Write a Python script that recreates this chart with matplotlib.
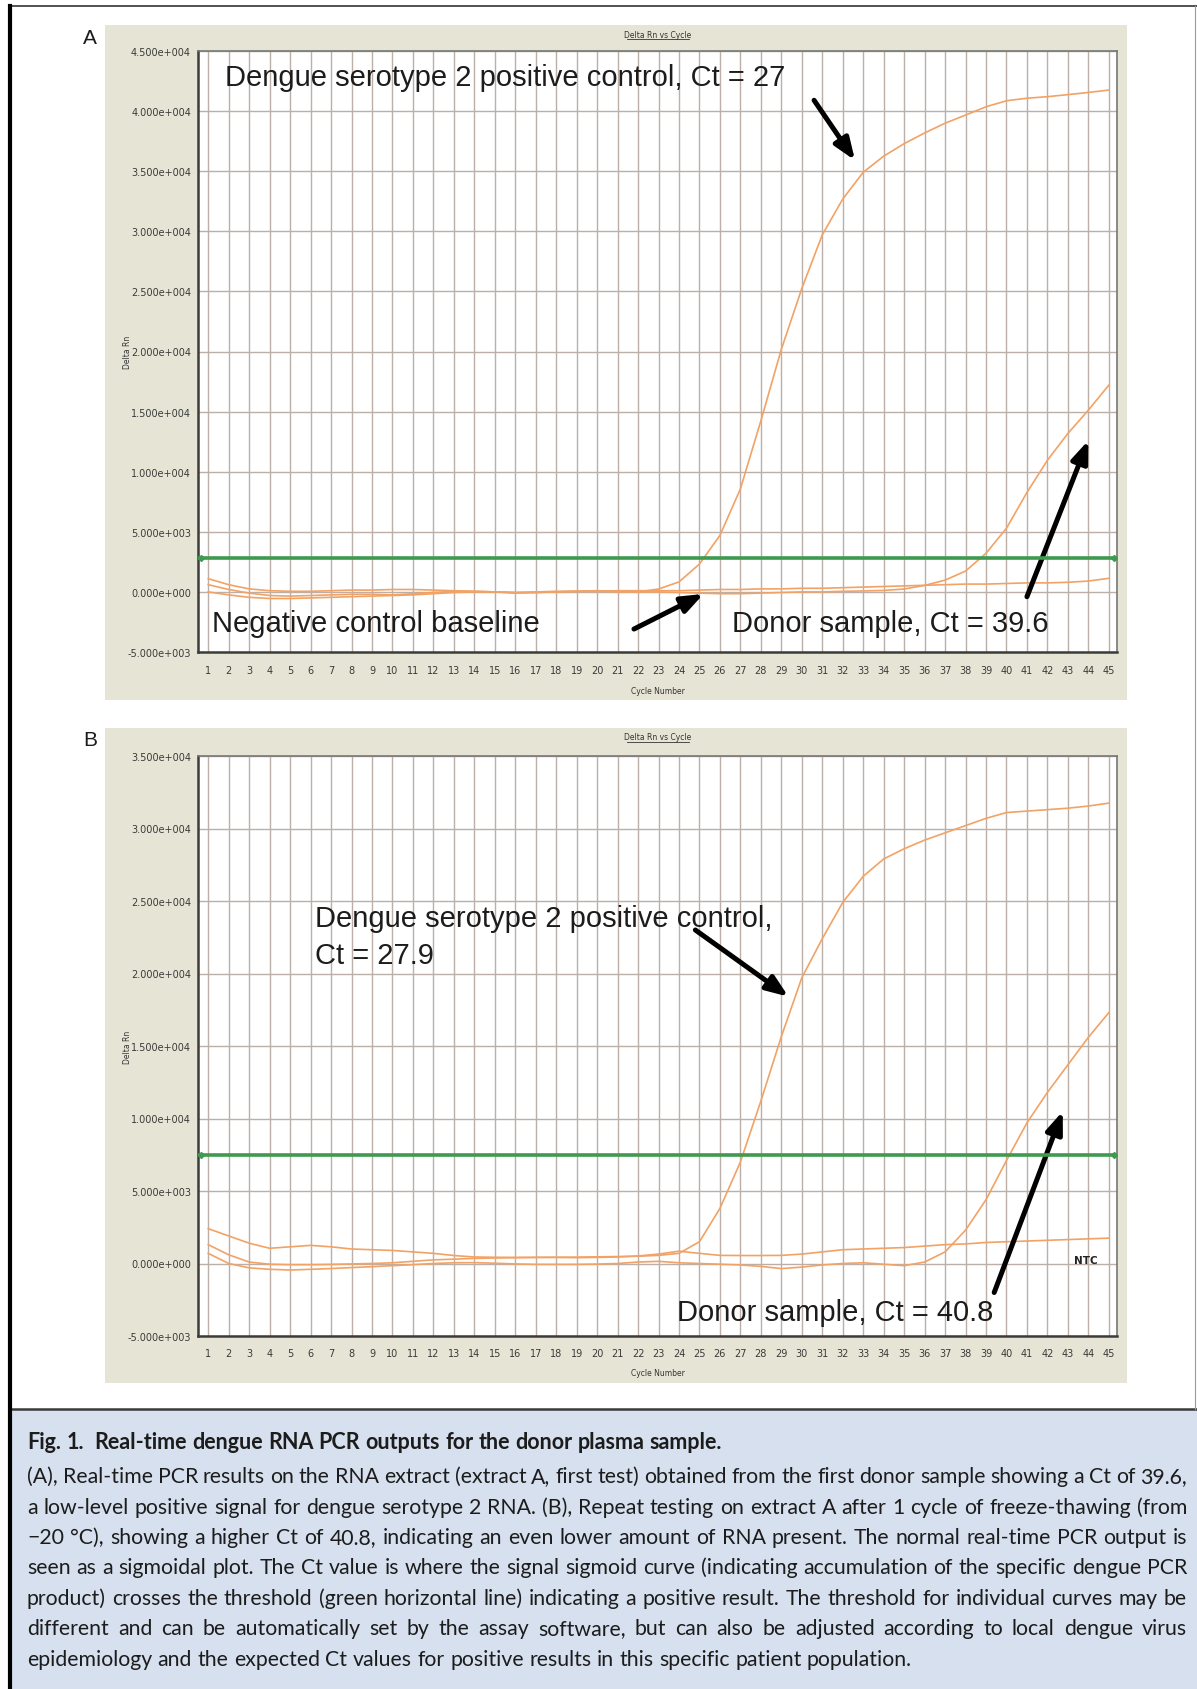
import matplotlib
matplotlib.use('Agg')
import matplotlib.pyplot as plt
from matplotlib.patches import Rectangle
from matplotlib.lines import Line2D
import numpy as np

W, H = 1197, 1690

TAN = '#e6e4d4'
GRID = '#bcafa8'
ORANGE = '#f2a264'
GREEN = '#3d9a4e'
CAPTION_BG = '#d6e0ee'
INK = '#1c1c1c'

cycles = list(range(1, 46))

# panel A: extract A, first test
a_positive = [1100, 600, 250, 100, 50,
              50, 100, 150, 150, 200,
              200, 150, 100, 50, 0,
              -50, 0, 50, 50, 50,
              0, 0, 240, 830, 2320,
              4700, 8570, 14230, 20180, 25240,
              29700, 32680, 34910, 36250, 37290,
              38180, 38990, 39670, 40360, 40860,
              41070, 41200, 41370, 41550, 41750]
a_donor = [600, 200, -100, -300, -350,
           -300, -250, -200, -200, -250,
           -150, -50, 50, 50, 0,
           -100, -50, 0, 50, 100,
           50, 0, 0, -50, -100,
           -150, -150, -100, -50, 0,
           0, 50, 80, 120, 240,
           540, 980, 1730, 3210, 5300,
           8270, 10950, 13180, 15120, 17200]
a_ntc = [0, -250, -450, -550, -550,
         -500, -450, -400, -350, -300,
         -250, -150, -50, 0, 0,
         -50, -50, 0, 50, 50,
         100, 100, 100, 100, 150,
         200, 200, 250, 250, 300,
         300, 350, 400, 450, 500,
         550, 600, 650, 650, 700,
         750, 750, 800, 900, 1130]
a_threshold = 2800

# panel B: repeat after freeze-thaw
b_positive = [1300, 600, 100, -50, -80,
              -80, -60, -30, 0, 50,
              150, 250, 300, 350, 380,
              400, 420, 430, 440, 460,
              480, 500, 560, 700, 1500,
              3800, 7000, 11200, 15650, 19700,
              22400, 24900, 26700, 27900, 28600,
              29200, 29700, 30200, 30700, 31100,
              31200, 31300, 31400, 31550, 31750]
b_donor = [700, 0, -300, -400, -450,
           -400, -350, -280, -220, -150,
           -80, 0, 50, 60, 20,
           -30, -60, -60, -60, -40,
           0, 100, 150, 50, 0,
           -50, -100, -200, -350, -250,
           -100, 0, 50, -50, -150,
           100, 800, 2300, 4400, 7100,
           9700, 11800, 13700, 15600, 17300]
b_ntc = [2400, 1900, 1400, 1050, 1150,
         1250, 1150, 1000, 950, 900,
         800, 700, 550, 450, 430,
         420, 420, 420, 400, 420,
         450, 520, 650, 850, 700,
         560, 550, 550, 560, 650,
         800, 950, 1000, 1050, 1100,
         1200, 1300, 1350, 1450, 1500,
         1550, 1600, 1650, 1700, 1750]
b_threshold = 7500

caption_title = 'Fig. 1.  Real-time dengue RNA PCR outputs for the donor plasma sample.'
caption_lines = [
    '(A), Real-time PCR results on the RNA extract (extract A, first test) obtained from the first donor sample showing a Ct of 39.6,',
    'a low-level positive signal for dengue serotype 2 RNA. (B), Repeat testing on extract A after 1 cycle of freeze-thawing (from',
    '\u221220 \u00b0C), showing a higher Ct of 40.8, indicating an even lower amount of RNA present. The normal real-time PCR output is',
    'seen as a sigmoidal plot. The Ct value is where the signal sigmoid curve (indicating accumulation of the specific dengue PCR',
    'product) crosses the threshold (green horizontal line) indicating a positive result. The threshold for individual curves may be',
    'different and can be automatically set by the assay software, but can also be adjusted according to local dengue virus',
    'epidemiology and the expected Ct values for positive results in this specific patient population.',
]


def fx(x):
    return x / W


def fy(y):
    return 1 - y / H


def rect_px(x0, y0, x1, y1):
    return [fx(x0), fy(y1), (x1 - x0) / W, (y1 - y0) / H]


def sci_label(v):
    mant, exp = f'{v:.3e}'.split('e')
    return f'{mant}e{exp[0]}{int(exp[1:]):03d}'


fig = plt.figure(figsize=(W / 100, H / 100), dpi=100)
fig.patch.set_facecolor('white')

BIG = dict(fontsize=21, family=['Liberation Sans', 'DejaVu Sans'], color=INK)
ARROW = dict(arrowstyle='-|>,head_length=0.65,head_width=0.25', lw=3.6,
             color='black', shrinkA=0, shrinkB=0, mutation_scale=20)


def draw_panel(letter, tan_box, ax_box, ylim, series, thr):
    x0, y0, x1, y1 = tan_box
    fig.add_artist(Rectangle((fx(x0), fy(y1)), (x1 - x0) / W, (y1 - y0) / H,
                             transform=fig.transFigure, facecolor=TAN,
                             edgecolor='none', zorder=0))
    ax = fig.add_axes(rect_px(*ax_box))
    ax.set_facecolor('white')
    ax.set_xlim(0.5, 45.4)
    ax.set_ylim(*ylim)
    yt = np.arange(ylim[0], ylim[1] + 1, 5000)
    ax.set_yticks(yt)
    ax.set_yticklabels([sci_label(v) for v in yt])
    ax.set_xticks(cycles)
    ax.tick_params(length=0, labelsize=7, labelcolor='#3a3a3a')
    ax.tick_params(axis='x', pad=9)
    ax.tick_params(axis='y', pad=5)
    ax.grid(True, color=GRID, lw=1.0)
    ax.set_axisbelow(True)
    for s in series:
        ax.plot(cycles, s, color=ORANGE, lw=1.2, zorder=3)
    ax.axhline(thr, color=GREEN, lw=2.6, zorder=4)
    ax.plot([0.003, 0.997], [thr, thr], ls='none', marker='D', ms=3,
            color=GREEN, transform=ax.get_yaxis_transform(), clip_on=False, zorder=5)
    for side in ['left', 'bottom']:
        ax.spines[side].set_color('#3c3c3c')
        ax.spines[side].set_linewidth(1.8)
    for side in ['top', 'right']:
        ax.spines[side].set_color('#777777')
        ax.spines[side].set_linewidth(1.2)

    ax_x0, ax_y0, ax_x1, ax_y1 = ax_box
    cx = (ax_x0 + ax_x1) / 2
    fig.text(fx(90), fy(y0 + 12), letter, fontsize=15, family='Liberation Sans',
             color=INK, ha='center', va='center')
    fig.text(fx(cx), fy(y0 + 9), 'Delta Rn vs Cycle', fontsize=5.5, color='#333333',
             ha='center', va='center')
    fig.add_artist(Line2D([fx(cx - 31), fx(cx + 31)], [fy(y0 + 14), fy(y0 + 14)],
                          transform=fig.transFigure, color='#333333', lw=0.6))
    fig.text(fx(cx), fy(y1 - 10), 'Cycle Number', fontsize=5.5, color='#333333',
             ha='center', va='center')
    fig.text(fx(128), fy((ax_y0 + ax_y1) / 2), 'Delta Rn', fontsize=5.5, color='#333333',
             ha='center', va='center', rotation=90)
    return ax


# ---- panel A
ax_a = draw_panel('A', (105, 26, 1127, 701), (198, 52, 1117, 653), (-5000, 45000),
                  [a_ntc, a_donor, a_positive], a_threshold)
ax_a.text(1.8, 42800, 'Dengue serotype 2 positive control, Ct = 27', ha='left', va='center', **BIG)
ax_a.annotate('', xy=(32.6, 35900), xytext=(30.6, 40900), arrowprops=ARROW)
ax_a.text(1.2, -2550, 'Negative control baseline', ha='left', va='center', **BIG)
ax_a.annotate('', xy=(25.2, -170), xytext=(21.8, -3090), arrowprops=ARROW)
ax_a.text(26.6, -2550, 'Donor sample, Ct = 39.6', ha='left', va='center', **BIG)
ax_a.annotate('', xy=(44.0, 12600), xytext=(41.0, -400), arrowprops=ARROW)

# ---- panel B
ax_b = draw_panel('B', (105, 729, 1127, 1384), (198, 757, 1117, 1337), (-5000, 35000),
                  [b_ntc, b_donor, b_positive], b_threshold)
ax_b.text(6.2, 23800, 'Dengue serotype 2 positive control,', ha='left', va='center', **BIG)
ax_b.text(6.2, 21250, 'Ct = 27.9', ha='left', va='center', **BIG)
ax_b.annotate('', xy=(29.35, 18400), xytext=(24.8, 23000), arrowprops=ARROW)
ax_b.text(23.9, -3350, 'Donor sample, Ct = 40.8', ha='left', va='center', **BIG)
ax_b.annotate('', xy=(42.75, 10500), xytext=(39.4, -2000), arrowprops=ARROW)
ax_b.text(43.9, 250, 'NTC', fontsize=7.5, weight='bold', color='#222222',
          family='DejaVu Sans', ha='center', va='center')

# ---- frame and caption box
fig.add_artist(Rectangle((fx(12), 0), (W - 12) / W, fy(1410), transform=fig.transFigure,
                         facecolor=CAPTION_BG, edgecolor='none', zorder=0))
fig.add_artist(Line2D([fx(10), 1], [fy(1410), fy(1410)], transform=fig.transFigure,
                      color='#3a3a3a', lw=1.8))
fig.add_artist(Line2D([fx(10), 1], [fy(7), fy(7)], transform=fig.transFigure,
                      color='#333333', lw=1.2))
fig.add_artist(Line2D([fx(10), fx(10)], [0, fy(7)], transform=fig.transFigure,
                      color='black', lw=3.0))
fig.add_artist(Line2D([fx(1195), fx(1195)], [fy(1410), fy(7)], transform=fig.transFigure,
                      color='#9a9a9a', lw=0.8))

renderer = fig.canvas.get_renderer()
CAP = dict(fontsize=15.3, family=['Lato', 'DejaVu Sans'], color=INK, va='baseline', ha='left')
TEXT_X0, TEXT_X1 = 27, 1187


def caption_line(text, y, justify=True, **extra):
    # y is the baseline in pixels from the top; words are spread to fill the line
    kw = dict(CAP, **extra)
    words = text.split(' ')
    arts = [fig.text(0, fy(y), w, **kw) for w in words]
    widths = [a.get_window_extent(renderer).width for a in arts]
    probe1 = fig.text(0, 0, 'n n', **kw)
    probe2 = fig.text(0, 0, 'nn', **kw)
    space = probe1.get_window_extent(renderer).width - probe2.get_window_extent(renderer).width
    probe1.remove()
    probe2.remove()
    if justify and len(words) > 1:
        gap = (TEXT_X1 - TEXT_X0 - sum(widths)) / (len(words) - 1)
    else:
        gap = space
    x = TEXT_X0
    for a, w in zip(arts, widths):
        if w == 0:
            x += space
            continue
        a.set_x(fx(x))
        x += w + gap


caption_line(caption_title, 1449, justify=False, weight='bold', fontsize=15.5)
for i, line in enumerate(caption_lines):
    caption_line(line, 1483 + i * 30.5, justify=(i < len(caption_lines) - 1))

fig.savefig('out.png', dpi=100, facecolor='white')
